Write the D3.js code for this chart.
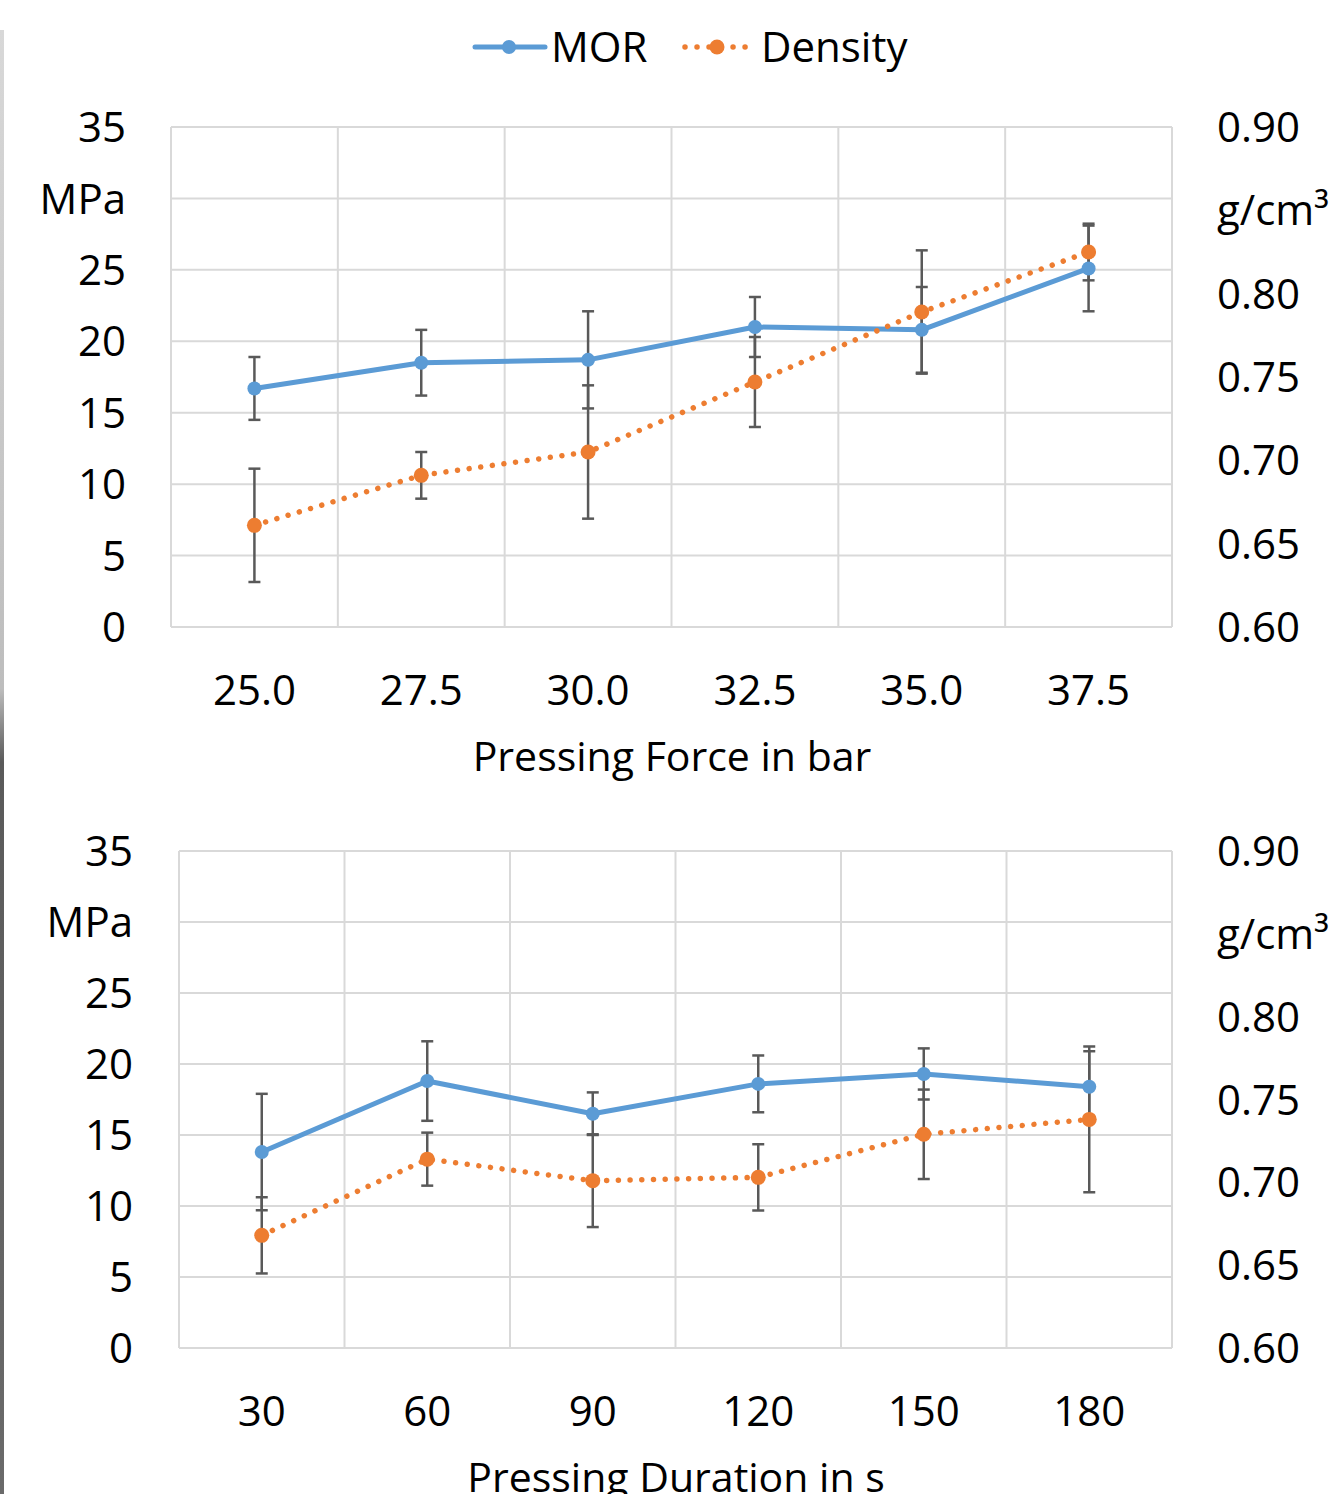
<!DOCTYPE html>
<html>
<head>
<meta charset="utf-8">
<script src="https://cdn.jsdelivr.net/npm/d3@7"></script>
<style>
  body { margin: 0; background: #fff; }
  svg { display: block; font-family: "Open Sans", sans-serif; }
</style>
</head>
<body>
<svg id="chart" width="1336" height="1494"></svg>
<script>
// data
var forceCats = ["25.0", "27.5", "30.0", "32.5", "35.0", "37.5"];
var forceMOR = [16.7, 18.5, 18.7, 21.0, 20.8, 25.1];
var forceMORErr = [2.2, 2.3, 3.4, 2.1, 3.0, 3.0];
var forceDensity = [0.661, 0.691, 0.705, 0.747, 0.789, 0.825];
var forceDensityErr = [0.034, 0.014, 0.040, 0.027, 0.037, 0.017];

var durationCats = ["30", "60", "90", "120", "150", "180"];
var durationMOR = [13.8, 18.8, 16.5, 18.6, 19.3, 18.4];
var durationMORErr = [4.1, 2.8, 1.5, 2.0, 1.8, 2.5];
var durationDensity = [0.668, 0.714, 0.701, 0.703, 0.729, 0.738];
var durationDensityErr = [0.023, 0.016, 0.028, 0.020, 0.027, 0.044];

var morTicks = [0, 5, 10, 15, 20, 25, 30, 35];
var densityTicks = [0.60, 0.65, 0.70, 0.75, 0.80, 0.85, 0.90];
var morUnit = "MPa";
var densityUnit = "g/cm³";
var seriesNames = ["MOR", "Density"];

var blue = "#5b9bd5";
var orange = "#ed7d31";
var grid = "#d9d9d9";
var errColor = "#595959";

var svg = d3.select("#chart");

// grey photo edge on the left side
var grad = svg.append("defs").append("linearGradient")
    .attr("id", "edge").attr("x1", 0).attr("x2", 0).attr("y1", 0).attr("y2", 1);
grad.append("stop").attr("offset", "0%").attr("stop-color", "#d8d8d8");
grad.append("stop").attr("offset", "45%").attr("stop-color", "#bdbdbd");
grad.append("stop").attr("offset", "50%").attr("stop-color", "#5a5a5a");
grad.append("stop").attr("offset", "100%").attr("stop-color", "#6a6a6a");
svg.append("rect").attr("x", 0).attr("y", 30).attr("width", 4).attr("height", 1464)
    .attr("fill", "url(#edge)");

function drawPanel(p) {
  var x = d3.scaleBand().domain(p.cats).range([p.left, p.right]).padding(0);
  var yL = d3.scaleLinear().domain([0, 35]).range([p.bottom, p.top]);
  var yR = d3.scaleLinear().domain([0.60, 0.90]).range([p.bottom, p.top]);
  var cx = function(c) { return x(c) + x.bandwidth() / 2; };

  var g = svg.append("g");

  // horizontal gridlines
  g.selectAll(".hgrid").data(morTicks).enter().append("line")
      .attr("x1", p.left).attr("x2", p.right)
      .attr("y1", function(d) { return yL(d); })
      .attr("y2", function(d) { return yL(d); })
      .attr("stroke", grid).attr("stroke-width", 2);

  // vertical gridlines at category boundaries
  var bounds = p.cats.map(function(c) { return x(c); }).concat([p.right]);
  g.selectAll(".vgrid").data(bounds).enter().append("line")
      .attr("x1", function(d) { return d; }).attr("x2", function(d) { return d; })
      .attr("y1", p.top).attr("y2", p.bottom)
      .attr("stroke", grid).attr("stroke-width", 2);

  // left axis labels
  g.selectAll(".ltick").data(morTicks).enter().append("text")
      .attr("x", p.leftLabelX)
      .attr("y", function(d) { return yL(d); })
      .attr("dy", "0.36em")
      .attr("text-anchor", "end")
      .attr("font-size", 42)
      .text(function(d) { return d === 30 ? morUnit : d; });

  // right axis labels
  g.selectAll(".rtick").data(densityTicks).enter().append("text")
      .attr("x", p.rightLabelX)
      .attr("y", function(d) { return yR(d); })
      .attr("dy", "0.36em")
      .attr("text-anchor", "start")
      .attr("font-size", 42)
      .text(function(d) { return Math.abs(d - 0.85) < 1e-9 ? densityUnit : d3.format(".2f")(d); });

  // category labels
  g.selectAll(".xtick").data(p.cats).enter().append("text")
      .attr("x", cx)
      .attr("y", p.bottom + 63)
      .attr("dy", "0.36em")
      .attr("text-anchor", "middle")
      .attr("font-size", 42)
      .text(function(d) { return d; });

  g.append("text")
      .attr("x", p.titleX).attr("y", p.bottom + 144)
      .attr("text-anchor", "middle")
      .attr("font-size", 41)
      .text(p.title);

  var series = [
    {vals: p.mor, err: p.morErr, y: yL, color: blue, dotted: false, r: 7},
    {vals: p.density, err: p.densityErr, y: yR, color: orange, dotted: true, r: 7.5}
  ];

  // error bars
  series.forEach(function(s) {
    var eb = g.append("g").attr("stroke", errColor).attr("stroke-width", 2.5);
    p.cats.forEach(function(c, i) {
      var lo = s.y(s.vals[i] - s.err[i]), hi = s.y(s.vals[i] + s.err[i]);
      eb.append("line").attr("x1", cx(c)).attr("x2", cx(c)).attr("y1", lo).attr("y2", hi);
      eb.append("line").attr("x1", cx(c) - 6).attr("x2", cx(c) + 6).attr("y1", lo).attr("y2", lo);
      eb.append("line").attr("x1", cx(c) - 6).attr("x2", cx(c) + 6).attr("y1", hi).attr("y2", hi);
    });
  });

  // lines and markers
  series.forEach(function(s) {
    var line = d3.line()
        .x(function(d, i) { return cx(p.cats[i]); })
        .y(function(d) { return s.y(d); });
    var path = g.append("path").datum(s.vals)
        .attr("d", line)
        .attr("fill", "none")
        .attr("stroke", s.color)
        .attr("stroke-linejoin", "round");
    if (s.dotted) {
      path.attr("stroke-width", 5.5).attr("stroke-linecap", "round")
          .attr("stroke-dasharray", "0.01 11.7");
    } else {
      path.attr("stroke-width", 5);
    }
    g.selectAll(null).data(s.vals).enter().append("circle")
        .attr("cx", function(d, i) { return cx(p.cats[i]); })
        .attr("cy", function(d) { return s.y(d); })
        .attr("r", s.r)
        .attr("fill", s.color);
  });
}

drawPanel({
  cats: forceCats, mor: forceMOR, morErr: forceMORErr,
  density: forceDensity, densityErr: forceDensityErr,
  left: 171, right: 1172, top: 127, bottom: 627,
  leftLabelX: 126, rightLabelX: 1217, titleX: 672,
  title: "Pressing Force in bar"
});

drawPanel({
  cats: durationCats, mor: durationMOR, morErr: durationMORErr,
  density: durationDensity, densityErr: durationDensityErr,
  left: 179, right: 1172, top: 851, bottom: 1348,
  leftLabelX: 133, rightLabelX: 1217, titleX: 676,
  title: "Pressing Duration in s"
});

// legend
var legend = svg.append("g");
legend.append("line").attr("x1", 475).attr("x2", 545).attr("y1", 47).attr("y2", 47)
    .attr("stroke", blue).attr("stroke-width", 5).attr("stroke-linecap", "round");
legend.append("circle").attr("cx", 509).attr("cy", 47).attr("r", 7).attr("fill", blue);
legend.append("text").attr("x", 551).attr("y", 47).attr("dy", "0.36em")
    .attr("font-size", 42).text(seriesNames[0]);

legend.append("line").attr("x1", 685).attr("x2", 748).attr("y1", 47).attr("y2", 47)
    .attr("stroke", orange).attr("stroke-width", 5.5).attr("stroke-linecap", "round")
    .attr("stroke-dasharray", "0.01 12");
legend.append("circle").attr("cx", 717).attr("cy", 47).attr("r", 7.5).attr("fill", orange);
legend.append("text").attr("x", 761).attr("y", 47).attr("dy", "0.36em")
    .attr("font-size", 42).text(seriesNames[1]);
</script>
</body>
</html>
